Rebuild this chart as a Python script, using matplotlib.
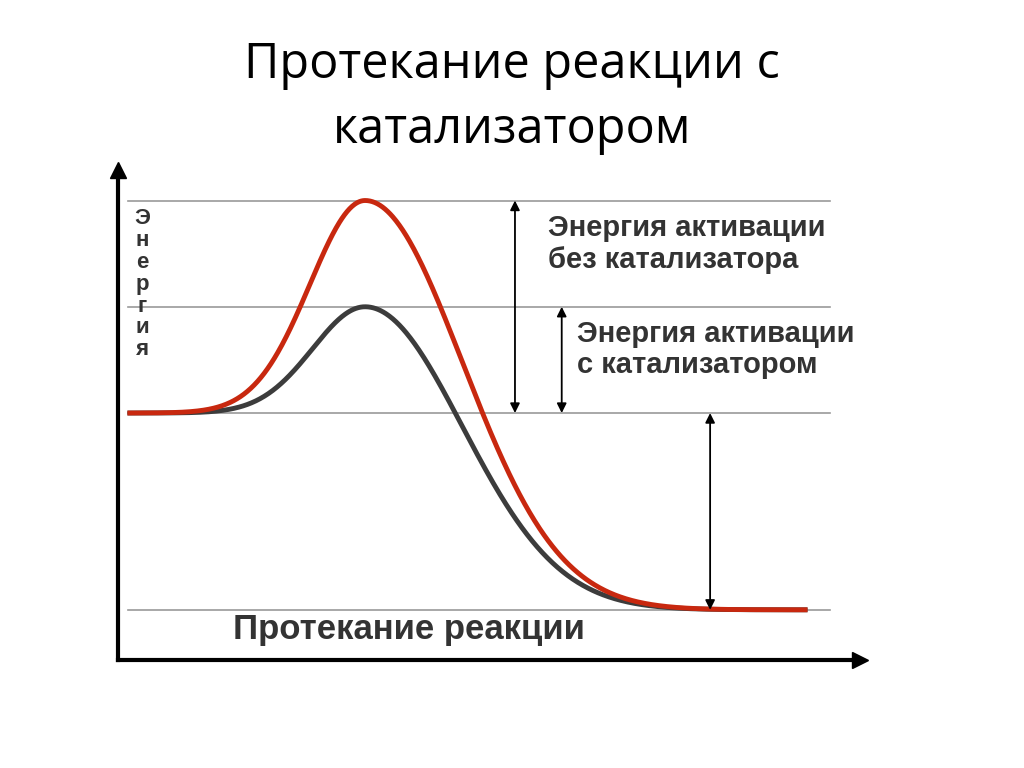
import numpy as np
import matplotlib
matplotlib.use("Agg")
import matplotlib.pyplot as plt

# Energy levels (arbitrary units)
E_products = 0.0
E_reactants = 2.0
E_peak_uncat = 4.16
E_peak_cat = 3.08
x_peak = 3.33
x_start, x_end = 0.16, 9.26
w_rise = [1.05, 1.0]       # uncat, cat
w_fall = [1.85, 1.85]

fig = plt.figure(figsize=(10.24, 7.68), dpi=100)
ax = fig.add_axes([118/1024, 108/768, 742/1024, 490/768])
ax.set_xlim(0, 10)
ax.set_ylim(-0.51, 4.47)

def curve(x, peak, wr, wf):
    y = np.where(x < x_peak,
                 E_reactants + (peak - E_reactants) * np.exp(-((x - x_peak) / wr) ** 2),
                 E_products + (peak - E_products) * np.exp(-((x - x_peak) / wf) ** 2))
    return y

x = np.linspace(x_start, x_end, 800)
for lvl in [E_peak_uncat, E_peak_cat, E_reactants, E_products]:
    ax.plot([0.13, 9.6], [lvl, lvl], color='#9a9a9a', lw=1.2, zorder=1)
ax.plot(x, curve(x, E_peak_cat, w_rise[1], w_fall[1]), color='#3c3c3c', lw=3.5, zorder=3)
ax.plot(x, curve(x, E_peak_uncat, w_rise[0], w_fall[0]), color='#c8280f', lw=3.5, zorder=3)

ap = dict(arrowstyle='<|-|>', color='black', lw=1.3, mutation_scale=14, shrinkA=0, shrinkB=0)
ax.annotate('', xy=(5.35, E_peak_uncat), xytext=(5.35, E_reactants), arrowprops=ap)
ax.annotate('', xy=(5.98, E_peak_cat), xytext=(5.98, E_reactants), arrowprops=ap)
ax.annotate('', xy=(7.98, E_reactants), xytext=(7.98, E_products), arrowprops=ap)

fp = dict(family='Liberation Sans', weight='bold', color='#333333')
ax.text(5.8, 4.02, 'Энергия активации\nбез катализатора', fontsize=21, va='top', linespacing=1.15, **fp)
ax.text(6.19, 2.95, 'Энергия активации\nс катализатором', fontsize=21, va='top', linespacing=1.15, **fp)
ax.text(1.55, -0.03, 'Протекание реакции', fontsize=25, va='top', **fp)
ax.text(0.33, 4.08, '\n'.join('Энергия'), fontsize=16, va='top', ha='center', linespacing=1.05, **fp)

for s in ['top', 'right']:
    ax.spines[s].set_visible(False)
for s in ['left', 'bottom']:
    ax.spines[s].set_linewidth(3)
ax.set_xticks([]); ax.set_yticks([])
ax.plot(1, 0, '>', color='black', ms=12, transform=ax.transAxes, clip_on=False)
ax.plot(0, 1, '^', color='black', ms=12, transform=ax.transAxes, clip_on=False)

fig.text(0.5, 1 - 65/768, 'Протекание реакции с', ha='center', va='center', fontsize=35, family='Open Sans')
fig.text(0.5, 1 - 130/768, 'катализатором', ha='center', va='center', fontsize=35, family='Open Sans')
fig.savefig('out.png')
